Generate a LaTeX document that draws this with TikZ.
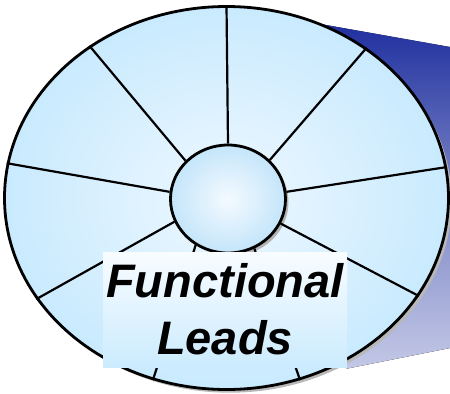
\documentclass[tikz,border=0pt]{standalone}
\usepackage{fontspec}
\newfontfamily\leadsfont{Liberation Sans}
\usepackage{tikz}
\usetikzlibrary{shapes.geometric}
\usetikzlibrary{shadows}
\definecolor{rimInner}{HTML}{EEF8FF}
\definecolor{rimOuter}{HTML}{C9EAFE}
\definecolor{hubInner}{HTML}{F4FAFF}
\definecolor{hubOuter}{HTML}{C4E5FA}
\definecolor{beamTop}{HTML}{1E2E9E}
\definecolor{beamMid}{HTML}{7C86C6}
\definecolor{beamBottom}{HTML}{C3C8E6}
\tikzset{
wheel rim/.style={ellipse, draw, line width=1.4pt, inner sep=0,
  minimum width=222pt, minimum height=191.5pt,
  inner color=rimInner, outer color=rimOuter,
  drop shadow={shadow xshift=1.6pt, shadow yshift=-1.6pt, fill=black!28, opacity=1}},
hub node/.style={ellipse, draw, line width=1.4pt, inner sep=0,
  minimum width=57.5pt, minimum height=54pt,
  inner color=hubInner, outer color=hubOuter,
  drop shadow={shadow xshift=1.5pt, shadow yshift=-1.5pt, fill=black!30, opacity=1}},
%
spoke line/.style={line width=1.1pt},
%
leads box/.style={inner sep=0, minimum width=122pt, minimum height=57.5pt,
  top color=white!60!rimInner, bottom color=rimOuter!95!white, align=center,
  font=\leadsfont\bfseries\itshape\fontsize{23.5}{28.5}\selectfont},
}
\begin{document}
\begin{tikzpicture}[x=0.5pt,y=0.5pt]
    \useasboundingbox (0,0) rectangle (450,393);
    \fill[top color=beamTop, bottom color=beamBottom, middle color=beamMid]
        (300,372.6) -- (450,346) -- (450,45) -- (347,24.4) -- (330,43) -- cycle;
    \node[wheel rim] (rim) at (226.5,195) {};
    \node[hub node] (hub) at (228,194) {};
    \foreach \h/\w in {90/90,43/47.7,7.5/8.8,-25/-27.8,-62/-68.6,138/132.1,173/171.2,203/208.3,235/248.8} {
        \draw[spoke line] (hub.\h) -- (rim.\w);
    }
    \node[leads box] (leads) at (225,83.5) {Functional\\Leads};
\end{tikzpicture}
\end{document}
